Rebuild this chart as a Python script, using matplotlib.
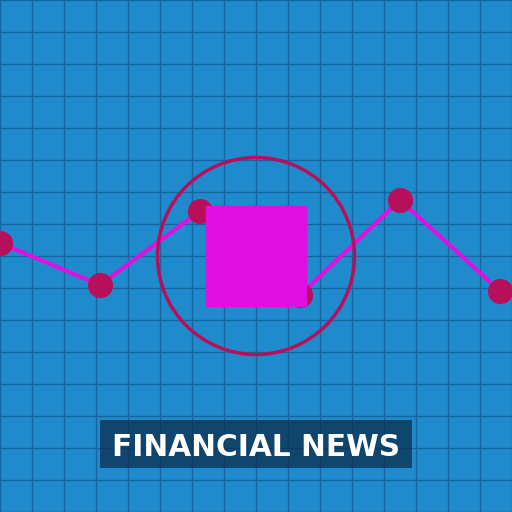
import matplotlib.pyplot as plt
from matplotlib.patches import Rectangle, Circle

# data (pixel space, y down)
xs = [0, 100, 200, 300, 400, 500]
ys = [243, 285, 211, 295, 200, 291]
grid_step = 32
title = "FINANCIAL NEWS"

fig = plt.figure(figsize=(5.12, 5.12), dpi=100)
ax = fig.add_axes([0, 0, 1, 1])
ax.set_xlim(0, 512)
ax.set_ylim(512, 0)
ax.axis('off')
ax.add_patch(Rectangle((0, 0), 512, 512, color='#1f8bcd', zorder=0))

# grid
for g in range(0, 513, grid_step):
    ax.axvline(g, color='#1566a0', lw=1, zorder=1)
    ax.axhline(g, color='#1566a0', lw=1, zorder=1)

# line + markers
ax.plot(xs, ys, color='#e010e0', lw=3, zorder=2, solid_capstyle='round')
ax.scatter(xs, ys, s=330, color='#b80f5a', zorder=3, linewidths=0)

# square and circle
ax.add_patch(Rectangle((206, 206), 100, 100, color='#e010e0', zorder=4))
ax.add_patch(Circle((256, 256), 98.5, fill=False, ec='#b80f5a', lw=2.5, zorder=5))

# title box
ax.add_patch(Rectangle((100, 420), 312, 48, color='#0b2e4e', alpha=0.75, zorder=6, lw=0))
ax.text(256, 447.5, title, color='white', fontsize=21.3, fontweight='bold',
        ha='center', va='center', zorder=7, family='DejaVu Sans')

fig.savefig('out.png', dpi=100)
